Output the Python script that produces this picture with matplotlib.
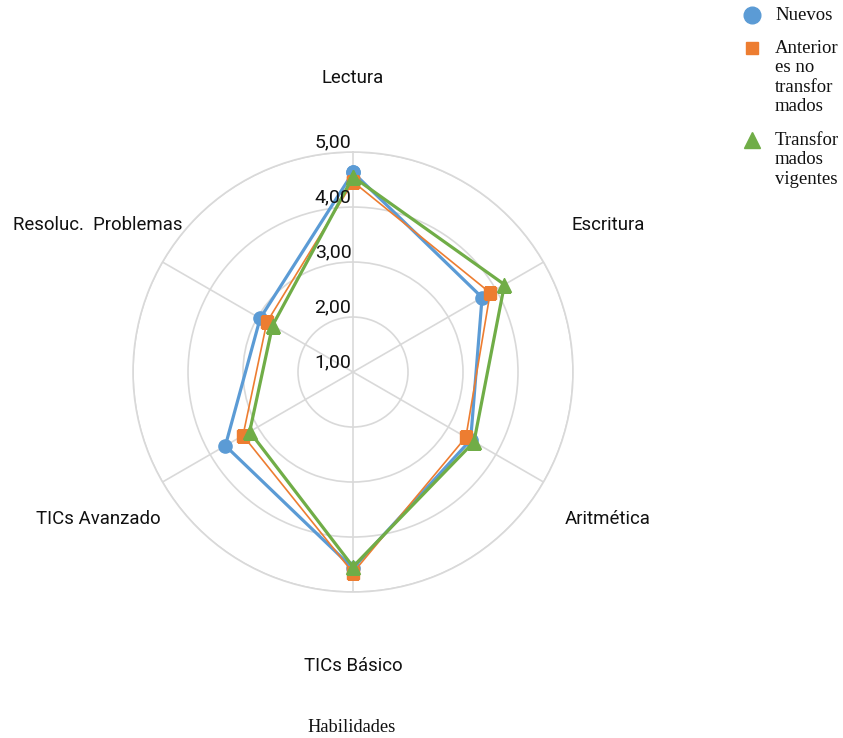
import numpy as np
import matplotlib
matplotlib.use('Agg')
import matplotlib.pyplot as plt
from matplotlib.lines import Line2D
from matplotlib.transforms import offset_copy

# datos
categorias = ['Lectura', 'Escritura', 'Aritmética', 'TICs Básico', 'TICs Avanzado', 'Resoluc.  Problemas']
nuevos = [4.63, 3.71, 3.47, 4.57, 3.68, 2.95]
anteriores = [4.46, 3.88, 3.37, 4.65, 3.31, 2.81]
transformados = [4.55, 4.18, 3.54, 4.54, 3.17, 2.69]
series = ['Nuevos', 'Anterior\nes no\ntransfor\nmados', 'Transfor\nmados\nvigentes']
ticks = [1, 2, 3, 4, 5]
tick_labels = ['1,00', '2,00', '3,00', '4,00', '5,00']

azul = '#5B9BD5'
naranja = '#ED7D31'
verde = '#70AD47'
gris = '#D9D9D9'

fig = plt.figure(figsize=(8.43, 7.38), dpi=100)
ax = fig.add_axes([0.1578, 0.1978, 0.5219, 0.5962], projection='polar')
ax.set_theta_zero_location('N')
ax.set_theta_direction(-1)

ang = np.linspace(0, 2 * np.pi, len(categorias), endpoint=False)
ang_c = np.append(ang, ang[0])


def cerrar(v):
    return np.append(v, v[0])


ax.plot(ang_c, cerrar(nuevos), color=azul, lw=2.3, marker='o', ms=9.5, zorder=3)
ax.plot(ang_c, cerrar(anteriores), color=naranja, lw=1.2, marker='s', ms=8.6, zorder=4)
ax.plot(ang_c, cerrar(transformados), color=verde, lw=2.3, marker='^', ms=10, zorder=5)

ax.set_ylim(1, 5)
ax.set_yticks(ticks)
ax.set_yticklabels([])
ax.set_xticks(ang)
ax.set_xticklabels([])
ax.grid(True, color=gris, lw=1.2)
ax.spines['polar'].set_color(gris)
ax.spines['polar'].set_linewidth(1.2)

# etiquetas del eje radial
tr = offset_copy(ax.transData, fig=fig, x=-20, y=10, units='dots')
for t, lab in zip(ticks, tick_labels):
    ax.text(0, t, lab, transform=tr, ha='center', va='center',
            fontsize=14, family='Roboto', color='#111111', zorder=6)

# etiquetas de categorias
for a, lab in zip(ang, categorias):
    ax.text(a, 6.35, lab, ha='center', va='center', fontsize=13.4,
            family='Roboto', color='#111111', clip_on=False)

fig.text(352 / 843, 1 - 728 / 738, 'Habilidades', ha='center', va='center',
         fontsize=13.3, family='Liberation Serif', color='#111111')

# leyenda
marcas = [('o', azul, 12), ('s', naranja, 9), ('^', verde, 11)]
ys = [15, 48, 140]
for (m, c, s), y, lab in zip(marcas, ys, series):
    fig.add_artist(Line2D([752 / 843], [1 - y / 738], marker=m, color=c, ms=s,
                          linestyle='none', transform=fig.transFigure))
    fig.text(775 / 843, 1 - (y - 8) / 738, lab, ha='left', va='top',
             fontsize=13.5, family='Liberation Serif', color='#111111',
             linespacing=1.19)

fig.savefig('out.png', dpi=100)
